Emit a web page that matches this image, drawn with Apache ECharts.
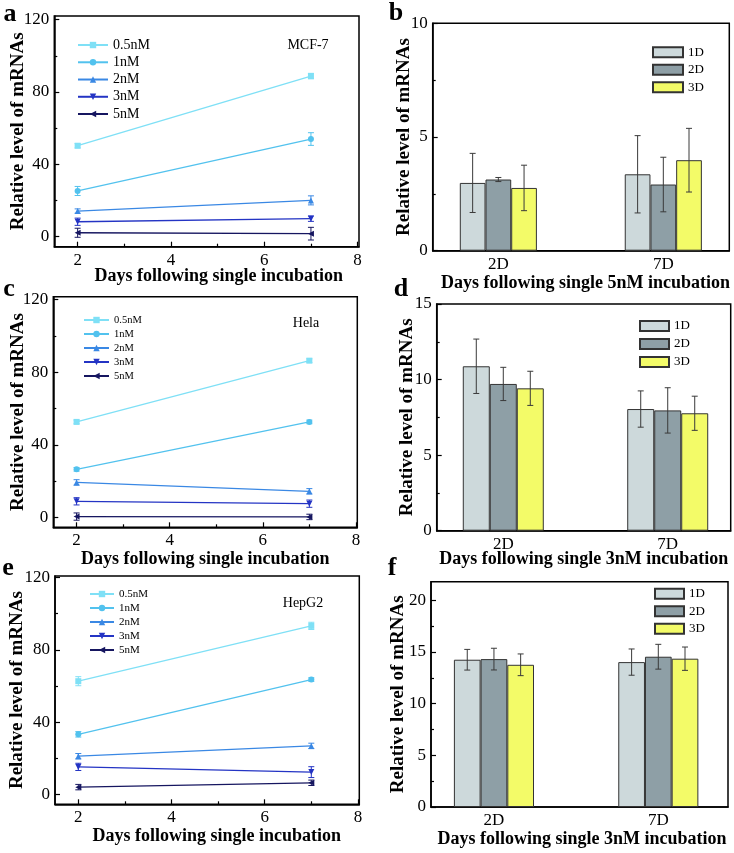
<!DOCTYPE html>
<html><head><meta charset="utf-8">
<script src="https://cdn.jsdelivr.net/npm/echarts@6.0.0/dist/echarts.min.js"></script>
<style>html,body{margin:0;padding:0;background:#fff}#c{width:734px;height:853px}</style>
</head><body><div id="c"></div>
<script>
// ---------------- data ----------------
const lineX = [2, 7];
const concNames = ['0.5nM', '1nM', '2nM', '3nM', '5nM'];
const lineXTicks = [2, 4, 6, 8];
const lineXMinor = [3, 5, 7];
const lineYTicks = [0, 40, 80, 120];
const lineYMinor = [20, 60, 100];

const mcfMean = [[50.3, 88.8], [25.3, 54.0], [14.2, 20.1], [8.3, 10.0], [2.2, 1.7]];
const mcfErr  = [[1.2, 1.5], [2.5, 3.5], [1.2, 2.5], [2.0, 1.5], [2.5, 3.5]];
const helaMean = [[52.7, 86.4], [26.6, 52.7], [19.4, 14.5], [9.0, 7.7], [0.6, 0.4]];
const helaErr  = [[1.0, 1.0], [1.0, 1.0], [1.5, 1.5], [2.0, 2.0], [2.0, 1.5]];
const hepMean = [[62.6, 93.2], [33.2, 63.5], [21.1, 26.8], [15.2, 12.3], [4.0, 6.4]];
const hepErr  = [[2.5, 2.0], [1.5, 1.0], [1.5, 1.5], [2.0, 3.0], [1.5, 1.5]];

const barCats = ['2D', '7D'];
const dayNames = ['1D', '2D', '3D'];
const b5Mean = [[2.98, 3.36], [3.13, 2.91], [2.76, 3.98]];
const b5Err  = [[1.30, 1.70], [0.09, 1.20], [1.00, 1.40]];
const d3Mean = [[10.88, 8.05], [9.71, 7.96], [9.42, 7.77]];
const d3Err  = [[1.80, 1.20], [1.10, 1.50], [1.13, 1.13]];
const f3Mean = [[14.25, 14.02], [14.31, 14.54], [13.76, 14.35]];
const f3Err  = [[1.00, 1.27], [1.05, 1.20], [1.05, 1.13]];
const bYTicksB = [0, 5, 10];          const bYMinorB = [2.5, 7.5];
const bYTicksD = [0, 5, 10, 15];      const bYMinorD = [2.5, 7.5, 12.5];
const bYTicksF = [0, 5, 10, 15, 20];  const bYMinorF = [2.5, 7.5, 12.5, 17.5];

// ---------------- styles ----------------
const FONT = '"Liberation Serif","Times New Roman",serif';
const lineColors = ['#7fe0f6', '#52c2ee', '#3a88e4', '#2434c4', '#161660'];
const lineSymbols = ['rect', 'circle', 'triangle',
  'path://M0,0 L10,0 L5,9 Z', 'path://M10,0 L10,10 L0,5 Z'];
const barColors = ['#cdd9db', '#8e9fa6', '#f3fb68'];

const chart = echarts.init(document.getElementById('c'), null, {renderer: 'canvas'});
const grids = [], xAxes = [], yAxes = [], series = [], legends = [], graphics = [];

function errRender(color, capHalf, offsetPx) {
  return function (params, api) {
    const x = api.value(0), y = api.value(1), e = api.value(2);
    const t = api.coord([x, y + e]), b = api.coord([x, y - e]);
    const cx = t[0] + offsetPx;
    const st = {stroke: color, lineWidth: 1};
    return {type: 'group', children: [
      {type: 'line', shape: {x1: cx, y1: t[1], x2: cx, y2: b[1]}, style: st},
      {type: 'line', shape: {x1: cx - capHalf, y1: t[1], x2: cx + capHalf, y2: t[1]}, style: st},
      {type: 'line', shape: {x1: cx - capHalf, y1: b[1], x2: cx + capHalf, y2: b[1]}, style: st}
    ]};
  };
}

function addGrid(r) {
  grids.push({left: r[0], top: r[1], width: r[2], height: r[3], show: true,
    borderColor: '#000', borderWidth: 1.5, backgroundColor: 'transparent'});
  return grids.length - 1;
}
const axLine = {show: true, onZero: false, lineStyle: {color: '#000', width: 1.5}};
const hiddenLine = {show: false, onZero: false};
const lblStyle = {fontFamily: FONT, fontSize: 17, color: '#000'};
const nameStyle = {fontFamily: FONT, fontSize: 18, fontWeight: 'bold', color: '#000'};
const yNameStyle = {fontFamily: FONT, fontSize: 19, fontWeight: 'bold', color: '#000'};

function addYAxes(gi, min, max, ticks, minor, nameGap) {
  const yi = yAxes.length;
  yAxes.push({gridIndex: gi, type: 'value', min: min, max: max, position: 'left',
    axisLine: axLine, splitLine: {show: false},
    axisTick: {show: true, inside: true, length: 5, customValues: ticks, lineStyle: {color: '#000', width: 1.2}},
    axisLabel: Object.assign({customValues: ticks, margin: 5}, lblStyle),
    name: 'Relative level of mRNAs', nameLocation: 'middle', nameRotate: 90, nameGap: nameGap,
    nameMoveOverlap: false, nameTextStyle: yNameStyle});
  yAxes.push({gridIndex: gi, type: 'value', min: min, max: max, position: 'left', offset: 0,
    axisLine: hiddenLine, splitLine: {show: false}, axisLabel: {show: false},
    axisTick: {show: true, inside: true, length: 3, customValues: minor, lineStyle: {color: '#000', width: 1.2}}});
  return yi;
}

function addLinePanel(p) {
  const gi = addGrid(p.rect);
  const xi = xAxes.length;
  xAxes.push({gridIndex: gi, type: 'value', min: p.xMin, max: p.xMax, position: 'bottom',
    axisLine: axLine, splitLine: {show: false},
    axisTick: {show: true, inside: true, length: 5, customValues: lineXTicks, lineStyle: {color: '#000', width: 1.2}},
    axisLabel: Object.assign({customValues: lineXTicks, margin: 5}, lblStyle),
    name: 'Days following single incubation', nameLocation: 'middle', nameGap: p.xNameGap,
    nameMoveOverlap: false,
    nameTextStyle: Object.assign({padding: [0, 0, 0, p.xNameShift * 2]}, nameStyle)});
  xAxes.push({gridIndex: gi, type: 'value', min: p.xMin, max: p.xMax, position: 'bottom', offset: 0,
    axisLine: hiddenLine, splitLine: {show: false}, axisLabel: {show: false},
    axisTick: {show: true, inside: true, length: 3, customValues: lineXMinor, lineStyle: {color: '#000', width: 1.2}}});
  const yi = addYAxes(gi, p.yMin, p.yMax, lineYTicks, lineYMinor, p.yNameGap);
  p.means.forEach(function (m, k) {
    series.push({type: 'line', name: concNames[k], xAxisIndex: xi, yAxisIndex: yi,
      data: lineX.map(function (x, j) { return [x, m[j]]; }),
      symbol: lineSymbols[k], symbolSize: 6, showSymbol: true, color: lineColors[k],
      lineStyle: {width: 1.3, color: lineColors[k]}, itemStyle: {color: lineColors[k]}, z: 2});
    series.push({type: 'custom', name: 'err-' + concNames[k], xAxisIndex: xi, yAxisIndex: yi,
      renderItem: errRender(lineColors[k], 3, 0), silent: true, z: 3,
      data: lineX.map(function (x, j) { return [x, m[j], p.errs[k][j]]; })});
  });
  legends.push({data: concNames, orient: 'vertical', left: p.leg[0], top: p.leg[1], padding: 0,
    itemGap: 0, itemWidth: p.leg[2], itemHeight: 8, selectedMode: false,
    textStyle: {fontFamily: FONT, fontSize: p.leg[3], color: '#000', lineHeight: p.leg[4]}});
  graphics.push({type: 'text', x: p.cell[1], y: p.cell[2],
    style: {text: p.cell[0], font: '14px ' + FONT, fill: '#000', align: 'center', verticalAlign: 'middle'}});
}

function addBarPanel(p) {
  const gi = addGrid(p.rect);
  const xi = xAxes.length;
  xAxes.push({gridIndex: gi, type: 'value', min: p.xMin, max: p.xMax, position: 'bottom',
    axisLine: axLine, splitLine: {show: false}, axisTick: {show: false},
    axisLabel: Object.assign({customValues: barCats.map(function (c, j) { return j + 1; }), margin: 5,
      formatter: function (v) { return barCats[Math.round(v) - 1]; }}, lblStyle),
    name: p.xName, nameLocation: 'middle', nameGap: p.xNameGap, nameMoveOverlap: false,
    nameTextStyle: Object.assign({padding: [0, 0, 0, p.xNameShift * 2]}, nameStyle)});
  const yi = addYAxes(gi, 0, p.yMax, p.yTicks, p.yMinor, p.yNameGap);
  dayNames.forEach(function (d, k) {
    series.push({type: 'bar', name: d, xAxisIndex: xi, yAxisIndex: yi, barWidth: p.barW, barGap: '0%',
      data: barCats.map(function (c, j) { return [j + 1, p.means[k][j]]; }),
      itemStyle: {color: barColors[k], borderColor: '#333', borderWidth: 1}, z: 2});
    series.push({type: 'custom', name: 'err-' + d, xAxisIndex: xi, yAxisIndex: yi, silent: true, z: 3,
      renderItem: errRender('#3a3a3a', 3, (k - 1) * p.barW),
      data: barCats.map(function (c, j) { return [j + 1, p.means[k][j], p.errs[k][j]]; })});
  });
  legends.push({data: dayNames, orient: 'vertical', left: p.leg[0], top: p.leg[1], padding: 0,
    itemGap: 0, itemWidth: p.leg[2], itemHeight: 10, icon: 'rect', selectedMode: false,
    textStyle: {fontFamily: FONT, fontSize: 13, color: '#000', lineHeight: p.leg[3]}});
}

// ---------------- panels ----------------
addLinePanel({rect: [54.3, 16, 304.7, 230.7], xMin: 1.5, xMax: 8.03, yMin: -5.5, yMax: 122,
  means: mcfMean, errs: mcfErr, xNameGap: 21, xNameShift: 12, yNameGap: 27,
  leg: [77, 36.4, 30, 14, 17.25], cell: ['MCF-7', 308, 45]});
addLinePanel({rect: [53.3, 296.7, 304, 230.6], xMin: 1.5, xMax: 8.03, yMin: -5.3, yMax: 121.6,
  means: helaMean, errs: helaErr, xNameGap: 23, xNameShift: 0, yNameGap: 26,
  leg: [83, 313, 25, 10.5, 14], cell: ['Hela', 306, 323]});
addLinePanel({rect: [55, 576, 304.3, 228.3], xMin: 1.5, xMax: 8.03, yMin: -5.5, yMax: 120.8,
  means: hepMean, errs: hepErr, xNameGap: 23.5, xNameShift: 9.5, yNameGap: 28,
  leg: [89, 587, 24, 11, 14], cell: ['HepG2', 303, 603]});

addBarPanel({rect: [432.7, 23.3, 296.6, 227.4], xMin: 0.602, xMax: 2.4, yMax: 10,
  yTicks: bYTicksB, yMinor: bYMinorB, means: b5Mean, errs: b5Err, barW: 25.7,
  xName: 'Days following single 5nM incubation', xNameGap: 24, xNameShift: 4.5, yNameGap: 19,
  leg: [652, 43.5, 30, 17.5]});
addBarPanel({rect: [436.7, 304, 294, 226.7], xMin: 0.595, xMax: 2.383, yMax: 15,
  yTicks: bYTicksD, yMinor: bYMinorD, means: d3Mean, errs: d3Err, barW: 27,
  xName: 'Days following single 3nM incubation', xNameGap: 20, xNameShift: 0, yNameGap: 20.5,
  leg: [639, 317, 29, 18]});
addBarPanel({rect: [431, 581.7, 297, 225.3], xMin: 0.617, xMax: 2.424, yMax: 21.8,
  yTicks: bYTicksF, yMinor: bYMinorF, means: f3Mean, errs: f3Err, barW: 26.7,
  xName: 'Days following single 3nM incubation', xNameGap: 23, xNameShift: 2.5, yNameGap: 23,
  leg: [654, 585, 29, 17.5]});

// panel letters
[['a', 10, 14], ['b', 396, 13], ['c', 9, 289], ['d', 401, 289], ['e', 8, 568], ['f', 392, 568]]
  .forEach(function (l) {
    graphics.push({type: 'text', x: l[1], y: l[2],
      style: {text: l[0], font: 'bold 26px ' + FONT, fill: '#000', align: 'center', verticalAlign: 'middle'}});
  });

chart.setOption({
  animation: false,
  backgroundColor: '#fff',
  grid: grids, xAxis: xAxes, yAxis: yAxes, series: series, legend: legends,
  graphic: graphics
});
</script>
</body></html>
